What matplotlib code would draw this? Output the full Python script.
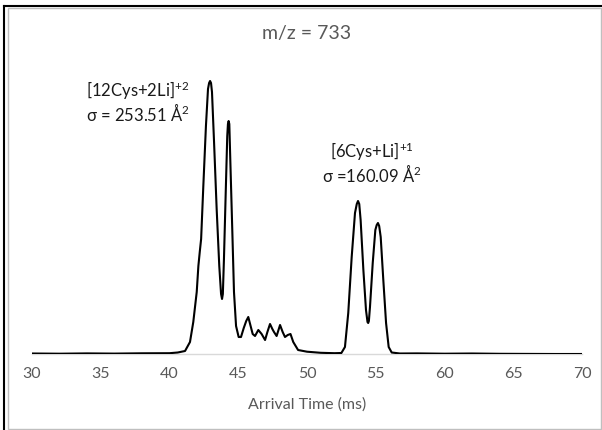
import matplotlib
matplotlib.use("Agg")
from matplotlib import pyplot as plt
from matplotlib.lines import Line2D
from matplotlib.patches import Rectangle

plt.rcParams['font.family'] = ['Lato', 'DejaVu Sans']
plt.rcParams['mathtext.fontset'] = 'custom'
plt.rcParams['mathtext.rm'] = 'Lato'
plt.rcParams['mathtext.default'] = 'regular'

# arrival time (ms) and signal
arrival_time = [30, 32, 34, 36, 38, 40, 40.6, 41.13, 41.49, 41.73, 41.98, 42.1, 42.2, 42.3,
                42.46, 42.65, 42.8, 42.88, 42.95, 43.02, 43.09, 43.24, 43.43, 43.62, 43.75,
                43.82, 43.88, 43.96, 44.09, 44.2, 44.25, 44.3, 44.35, 44.42, 44.57, 44.69,
                44.84, 45.03, 45.2, 45.4, 45.58, 45.73, 45.88, 46.05, 46.22, 46.46, 46.7,
                46.95, 47.12, 47.31, 47.48, 47.6, 47.79, 48.04, 48.23, 48.4, 48.6, 48.8,
                49.0, 49.35, 50.0, 51.0, 52.0, 52.5, 52.76, 53.0, 53.25, 53.49, 53.62, 53.71,
                53.8, 53.9, 54.1, 54.29, 54.4, 54.45, 54.5, 54.58, 54.78, 54.97, 55.07, 55.16,
                55.25, 55.36, 55.55, 55.75, 55.94, 56.16, 56.76, 58, 60, 62, 64, 66, 68, 70]
intensity = [0.5, 0.3, 0.6, 0.4, 0.7, 0.8, 1.5, 3, 12, 32, 62, 88, 102, 115,
             168, 228, 265, 271, 273, 271, 262, 212, 145, 88, 60,
             55, 60, 95, 162, 218, 230, 233, 230, 195, 122, 62,
             28, 17, 17, 26, 33, 37, 29, 20, 18, 24, 20,
             14, 22, 30, 25, 22, 18, 29, 22, 17, 19, 20,
             12, 4, 2.3, 1.2, 0.8, 1, 7, 41, 97, 141, 150, 153,
             150, 134, 84, 44, 32, 31, 33, 47, 91, 124, 129, 131,
             128, 117, 74, 31, 7, 1.5, 0.5, 0.6, 0.3, 0.5, 0.2, 0.1, 0, 0]

x_ticks = [30, 35, 40, 45, 50, 55, 60, 65, 70]

title = "m/z = 733"
label_big = ["[12Cys+2Li]$^{+2}$", "σ = 253.51 Å$^{2}$"]
label_small = ["[6Cys+Li]$^{+1}$", "σ =160.09 Å$^{2}$"]

W, H = 602, 431
fig = plt.figure(figsize=(W / 100, H / 100), dpi=100)
ax = fig.add_axes([32 / W, 1 - 355 / H, 550 / W, 300 / H])

ax.plot(arrival_time, intensity, color="black", lw=1.5, solid_joinstyle="round")

ax.set_xlim(30, 70)
ax.set_ylim(0, 300)
ax.set_xticks(x_ticks)
ax.tick_params(axis="x", length=0, pad=9, labelsize=11.5, labelcolor="#595959")
ax.set_yticks([])
for side in ["top", "right", "left"]:
    ax.spines[side].set_visible(False)
ax.spines["bottom"].set_color("#d9d9d9")
ax.spines["bottom"].set_linewidth(1.0)
ax.spines["bottom"].set_zorder(0)
ax.set_facecolor("none")

# texts
fig.text(307 / W, 1 - 33 / H, title, ha="center", va="center", fontsize=14, color="#595959")
fig.text(307 / W, 1 - 405 / H, "Arrival Time (ms)", ha="center", va="center",
         fontsize=11.5, color="#595959")

txt = dict(ha="center", va="center", fontsize=12, color="#1a1a1a")
fig.text(138 / W, 1 - 91 / H, label_big[0], **txt)
fig.text(138 / W, 1 - 113 / H, label_big[1], **txt)
fig.text(372 / W, 1 - 152 / H, label_small[0], **txt)
fig.text(372 / W, 1 - 174 / H, label_small[1], **txt)

# chart frame and outer black edges
fig.add_artist(Rectangle((8 / W, 1 - 430 / H), 593 / W, 421 / H, transform=fig.transFigure,
                         fill=False, edgecolor="#bfbfbf", lw=1.0))
fig.add_artist(Line2D([4 / W, 1], [1 - 7 / H, 1 - 7 / H], transform=fig.transFigure,
                      color="black", lw=1.5))
fig.add_artist(Line2D([4 / W, 4 / W], [0, 1 - 7 / H], transform=fig.transFigure,
                      color="black", lw=1.5))

fig.savefig("out.png", dpi=100)
